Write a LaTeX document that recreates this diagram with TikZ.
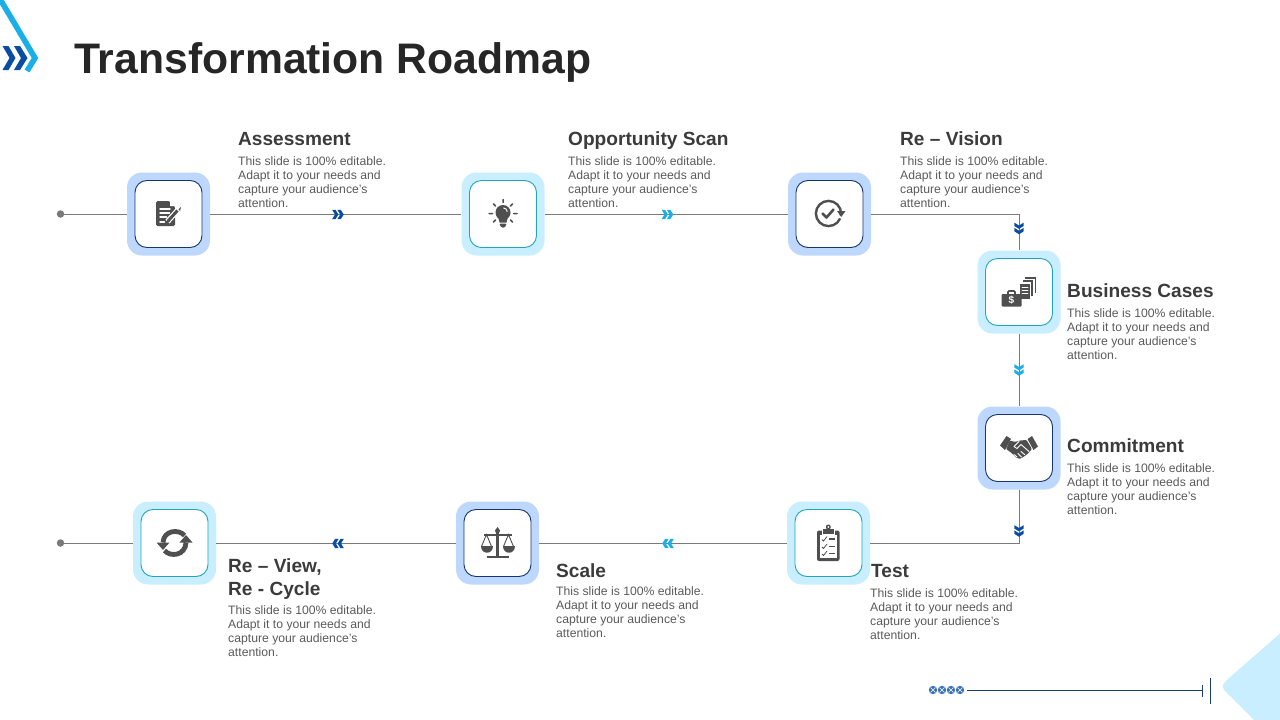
\documentclass[tikz,border=0pt]{standalone}
\usepackage{fontspec}
\setmainfont{Liberation Sans}
\definecolor{navy}{HTML}{0B4DA2}
\definecolor{sky}{HTML}{1AAFE6}
\definecolor{paleblue}{HTML}{BDD7FD}
\definecolor{palecyan}{HTML}{C8EEFF}
\definecolor{inknavy}{HTML}{14366F}
\definecolor{inkcyan}{HTML}{1FA5BE}
\definecolor{icongray}{HTML}{4F4F4F}
\definecolor{linegray}{HTML}{7A7A7A}
\definecolor{headcol}{HTML}{3B3B3B}
\definecolor{bodycol}{HTML}{5A5A5A}
\definecolor{rulecol}{HTML}{1B3F6B}
\newcommand{\slidetext}{This slide is 100\% editable.\\Adapt it to your needs and\\capture your audience's\\attention.}
\tikzset{
  x=1pt,y=-1pt,
  outerbox/.style={minimum size=83pt,inner sep=0pt,rounded corners=15pt},
  bluebox/.style={outerbox,fill=paleblue},
  cyanbox/.style={outerbox,fill=palecyan},
  innerblue/.style={minimum size=67pt,inner sep=0pt,rounded corners=12pt,fill=white,draw=inknavy,line width=0.9pt},
  innercyan/.style={minimum size=67pt,inner sep=0pt,rounded corners=12pt,fill=white,draw=inkcyan,line width=0.9pt},
  conn/.style={draw=linegray,line width=1pt},
  enddot/.style={circle,fill=linegray,minimum size=7.5pt,inner sep=0pt},
  heading/.style={anchor=base west,inner sep=0pt,text=headcol,font=\fontsize{19.1}{22}\selectfont\bfseries},
  bodytxt/.style={anchor=north west,inner sep=0pt,align=left,text=bodycol,font=\fontsize{12.2}{14.2}\selectfont},
  ic/.style={fill=icongray,draw=none},
  icl/.style={draw=icongray,line cap=round,line join=round},
  wl/.style={draw=white,line cap=round,line join=round},
  chev/.pic={
    \fill[pic actions] (-5.8,-4.6)--(-2.4,-4.6)--(0.4,0)--(-2.4,4.6)--(-5.8,4.6)--(-3,0)--cycle;
    \fill[pic actions] (-0.6,-4.6)--(2.8,-4.6)--(5.8,0)--(2.8,4.6)--(-0.6,4.6)--(2.2,0)--cycle;
  }
}
\begin{document}
\begin{tikzpicture}
\useasboundingbox (0,0) rectangle (1280,720);
% corner decoration
\fill[palecyan,rounded corners=7pt] (1292,623) -- (1220,686) -- (1262,728) -- (1292,728) -- cycle;
% logo
\draw[sky,line width=5.6pt,line join=miter] (-3,-6) -- (35,58) -- (27,71);
\fill[navy] (2.5,46)--(8.5,46)--(15.5,58)--(8.5,70)--(2.5,70)--(9.5,58)--cycle;
\fill[navy] (14,46)--(20,46)--(27.5,58)--(20,70)--(14,70)--(21,58)--cycle;
% title
\node[anchor=base west,inner sep=0pt,text=black!85,font=\fontsize{42.7}{50}\selectfont\bfseries] (title) at (74,73) {Transformation Roadmap};
% nodes
\node[bluebox] (o1) at (168.5,214) {};
\node[cyanbox] (o2) at (503,214) {};
\node[bluebox] (o3) at (829.5,214) {};
\node[cyanbox] (o4) at (1019,292) {};
\node[bluebox] (o5) at (1019,448) {};
\node[cyanbox] (o6) at (828.5,543) {};
\node[bluebox] (o7) at (497.5,543) {};
\node[cyanbox] (o8) at (174.5,543) {};
\node[innerblue] (n1) at (o1) {};
\node[innercyan] (n2) at (o2) {};
\node[innerblue] (n3) at (o3) {};
\node[innercyan] (n4) at (o4) {};
\node[innerblue] (n5) at (o5) {};
\node[innercyan] (n6) at (o6) {};
\node[innerblue] (n7) at (o7) {};
\node[innercyan] (n8) at (o8) {};
\node[enddot] (d1) at (60.5,214) {};
\node[enddot] (d2) at (60.5,543) {};
% connectors
\draw[conn] (d1) -- (o1);
\draw[conn] (o1) -- (o2);
\draw[conn] (o2) -- (o3);
\draw[conn] (o3.east) -| (o4.north);
\draw[conn] (o4) -- (o5);
\draw[conn] (o5.south) |- (o6.east);
\draw[conn] (o6) -- (o7);
\draw[conn] (o7) -- (o8);
\draw[conn] (o8) -- (d2);
% chevrons
\pic[fill=navy] at (338,214.5) {chev};
\pic[fill=sky] at (667.5,214.5) {chev};
\pic[fill=navy,rotate=-90] at (1019,228.5) {chev};
\pic[fill=sky,rotate=-90] at (1019,370) {chev};
\pic[fill=navy,rotate=-90] at (1019,531) {chev};
\pic[fill=sky,rotate=180] at (668,543.5) {chev};
\pic[fill=navy,rotate=180] at (338,543.5) {chev};
% icon 1: document + pencil
\begin{scope}[shift={(n1.center)},yshift=0.5pt]
\fill[ic,rounded corners=1.5pt] (-12.5,-12.5)--(1,-12.5)--(6.5,-7)--(6.5,12.5)--(-12.5,12.5)--cycle;
\fill[white] (1.5,-12.5)--(6.5,-7.5)--(1.5,-7.5)--cycle;
\draw[wl,line width=1.4pt] (-8.5,-4.5)--(1.5,-4.5) (-8.5,-0.5)--(1,-0.5) (-8.5,3.5)--(-2,3.5) (-8.5,8.5)--(-4,8.5);
\draw[white,line width=5.5pt] (-1,8)--(9,-3);
\draw[icongray,line width=3pt] (0,7)--(9,-3);
\fill[ic] (10,-4.2)--(12.5,-6.5)--(11.5,-2.5)--cycle;
\fill[ic] (-2,10)--(-1.2,5.8)--(1.5,8.2)--cycle;
\end{scope}
% icon 2: bulb
\begin{scope}[shift={(n2.center)},yshift=0.5pt]
\fill[ic] (0,-1) circle[radius=7.5];
\fill[ic] (-5,3)--(5,3)--(3.5,9)--(-3.5,9)--cycle;
\fill[ic,rounded corners=1pt] (-3.5,10)--(3.5,10)--(3,12)--(1.5,14)--(-1.5,14)--(-3,12)--cycle;
\draw[wl,line width=0.9pt] (4.2,-2) .. controls (4.2,-4) and (2.5,-5.5) .. (0.5,-5.5);
\draw[icl,line width=1.5pt] (0,-14)--(0,-11) (-9.5,-9.5)--(-7.5,-7.5) (9.5,-9.5)--(7.5,-7.5) (-14,0)--(-10.5,0) (14,0)--(10.5,0) (-9.5,8.5)--(-7.5,6.5) (9.5,8.5)--(7.5,6.5);
\end{scope}
% icon 3: check with arrow
\begin{scope}[shift={(n3.center)},yshift=0.5pt]
\draw[icongray,line width=2.4pt] (-1,0) circle[radius=12.6];
\fill[white] (-1,0)--(16,3)--(16,7)--(-1,0)--cycle;
\fill[ic] (7.5,-2.5)--(16,-2.5)--(11.7,3.5)--cycle;
\draw[icl,line width=2.6pt] (-7,0)--(-3,4)--(4,-4);
\end{scope}
% icon 4: briefcase + documents
\begin{scope}[shift={(n4.center)},yshift=0.5pt]
\draw[icongray,line width=1.6pt,rounded corners=1pt] (-11,3)--(-11,-0.5)--(-4,-0.5)--(-4,3);
\fill[ic,rounded corners=1pt] (-17.5,2.5)--(2.5,2.5)--(2.5,15)--(-17.5,15)--cycle;
\node[text=white,inner sep=0pt,font=\fontsize{10}{10}\selectfont\bfseries] (dollar) at (-7.5,9) {\$};
\fill[ic] (6,-14.5) rectangle (17,1.5);
\fill[white] (4.8,-12.8) rectangle (15.8,3.2);
\fill[ic] (3.8,-11.5) rectangle (14,4.5);
\fill[white] (2,-9.5) rectangle (12.2,6.8);
\fill[ic] (0.5,-8) rectangle (11,7);
\draw[wl,line width=0.9pt] (3,-4.5)--(9,-4.5) (3,-1.5)--(9,-1.5) (3,1.5)--(9,1.5);
\end{scope}
% icon 5: handshake
\begin{scope}[shift={(n5.center)},yshift=0.5pt]
\fill[ic] (-19,-2)--(-12.5,-11.5)--(-8,-8.5)--(-14,2.5)--cycle;
\fill[ic] (19,-1)--(13,-11.5)--(8.5,-8.5)--(14.5,2.5)--cycle;
\fill[ic,rounded corners=1pt] (-9,-7)--(-4,-5.5)--(1,-7)--(7.5,-7.5)--(13,1.5)--(9,6)--(5,9)--(1,11.5)--(-3,10)--(-8,5)--(-13,1.5)--cycle;
\draw[wl,line width=0.9pt] (-5,-1)--(0,-6) (-5,-1)--(-2,1)--(2,-3)--(10,4) (2,4)--(5.5,7) (-1,6)--(2.5,9.5) (-5,7)--(-2,9.5);
\end{scope}
% icon 6: clipboard
\begin{scope}[shift={(n6.center)},yshift=0.5pt]
\fill[ic,rounded corners=2pt] (-11.5,-12)--(11,-12)--(11,18.5)--(-11.5,18.5)--cycle;
\fill[white] (-8.5,-8) rectangle (8,15.5);
\fill[ic,draw=white,line width=0.8pt] (-6.5,-14.5) rectangle (6,-8);
\fill[ic] (-0.2,-15.5) circle[radius=2.5];
\fill[white] (-0.2,-15.5) circle[radius=1];
\foreach \yy in {-2,5.5,12.5}{
  \draw[icongray,line width=0.8pt] (-6.5,\yy-1)--(-5,\yy+0.5)--(-1.5,\yy-4);
  \draw[icongray,line width=1.1pt] (0,\yy-1.5)--(6.5,\yy-1.5);
}
\end{scope}
% icon 7: scales
\begin{scope}[shift={(n7.center)},yshift=0.5pt]
\fill[ic] (-1.5,-11) rectangle (1.5,13.5);
\fill[ic] (-11,13) rectangle (11,15.8);
\fill[ic] (-14,-8.5) rectangle (14,-6.5);
\fill[ic] (0,-15.5)--(2.5,-12)--(1,-8)--(-1,-8)--(-2.5,-12)--cycle;
\draw[icongray,line width=0.9pt] (-16,4)--(-11,-8)--(-6,4) (16,4)--(11,-8)--(6,4);
\fill[ic] (-17,3.5) .. controls (-17,12.5) and (-5,12.5) .. (-5,3.5) -- cycle;
\fill[ic] (5,3.5) .. controls (5,12.5) and (17,12.5) .. (17,3.5) -- cycle;
\end{scope}
% icon 8: cycle arrows
\begin{scope}[shift={(n8.center)},yshift=0.5pt]
\draw[icongray,line width=4.8pt] (10,-7) .. controls (4,-14) and (-11,-12) .. (-11.5,0);
\draw[icongray,line width=4.8pt] (-10,8) .. controls (-4,15) and (11,13) .. (11.5,0);
\fill[ic] (-18,0)--(-5,0)--(-11.5,7.5)--cycle;
\fill[ic] (18,0)--(5,0)--(11.5,-7.5)--cycle;
\end{scope}
% labels
\node[heading] (h1) at (238,145) {Assessment};
\node[bodytxt] (b1) at (238,156) {\slidetext};
\node[heading] (h2) at (568,145) {Opportunity Scan};
\node[bodytxt] (b2) at (568,156) {\slidetext};
\node[heading] (h3) at (900,145) {Re – Vision};
\node[bodytxt] (b3) at (900,156) {\slidetext};
\node[heading] (h4) at (1067,297) {Business Cases};
\node[bodytxt] (b4) at (1067,308) {\slidetext};
\node[heading] (h5) at (1067,452) {Commitment};
\node[bodytxt] (b5) at (1067,463) {\slidetext};
\node[heading] (h6) at (871,577) {Test};
\node[bodytxt] (b6) at (870,588) {\slidetext};
\node[heading] (h7) at (556,577) {Scale};
\node[bodytxt] (b7) at (556,586) {\slidetext};
\node[heading] (h8a) at (228,572) {Re – View,};
\node[heading] (h8b) at (228,595) {Re - Cycle};
\node[bodytxt] (b8) at (228,605) {\slidetext};
% footer
\foreach \xx in {933,942,951,960}{
  \fill[navy!80] (\xx,690) circle[radius=4.2];
  \draw[white,line width=0.6pt] (\xx-2.5,687.5)--(\xx+2.5,692.5) (\xx-2.5,692.5)--(\xx+2.5,687.5);
}
\coordinate (fa) at (967,690.5);
\coordinate (fb) at (1202.5,690.5);
\draw[rulecol,line width=1pt] (fa) -- (fb);
\draw[rulecol,line width=1pt] (1202.5,684.5) -- (1202.5,697);
\draw[rulecol,line width=1pt] (1210.5,678) -- (1210.5,703.5);
\end{tikzpicture}
\end{document}
